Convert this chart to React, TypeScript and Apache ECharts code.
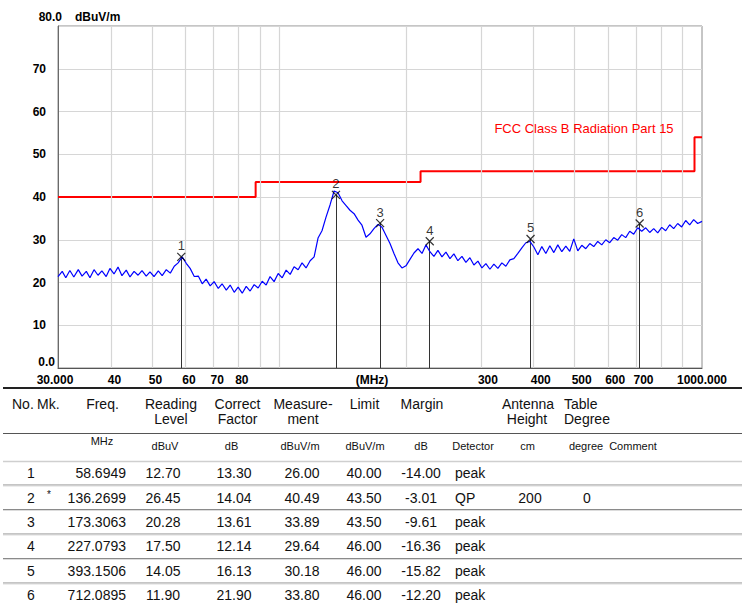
import React, { useEffect, useRef } from 'react';
import * as echarts from 'echarts';

// ---- Measured trace (MHz / dBuV/m) ----
const traceFreq = [
  30.0, 30.7, 31.3, 32.0, 32.7, 33.5, 34.2, 35.0, 35.7, 36.5,
  37.3, 38.1, 39.0, 39.8, 40.7, 41.6, 42.5, 43.5, 44.4, 45.4,
  46.4, 47.4, 48.5, 49.5, 50.6, 51.8, 52.9, 54.1, 55.3, 56.5,
  57.7, 59.0, 60.3, 61.6, 63.0, 64.4, 65.8, 67.2, 68.7, 70.2,
  71.8, 73.3, 75.0, 76.6, 78.3, 80.0, 81.8, 83.6, 85.4, 87.3,
  89.2, 91.2, 93.2, 95.2, 97.3, 99.5, 101.7, 103.9, 106.2, 108.5,
  110.9, 113.3, 115.8, 118.4, 121.0, 123.6, 126.3, 129.1, 132.0, 134.9,
  137.8, 140.9, 144.0, 147.1, 150.4, 153.7, 157.0, 160.5, 164.0, 167.6,
  171.3, 175.1, 179.0, 182.9, 186.9, 191.0, 195.2, 199.5, 203.9, 208.4,
  213.0, 217.7, 222.4, 227.3, 232.3, 237.4, 242.7, 248.0, 253.5, 259.0,
  264.7, 270.6, 276.5, 282.6, 288.8, 295.2, 301.7, 308.3, 315.1, 322.0,
  329.1, 336.3, 343.7, 351.3, 359.0, 366.9, 375.0, 383.2, 391.7, 400.3,
  409.1, 418.1, 427.3, 436.7, 446.3, 456.1, 466.1, 476.4, 486.8, 497.5,
  508.5, 519.7, 531.1, 542.8, 554.7, 566.9, 579.4, 592.1, 605.1, 618.4,
  632.0, 645.9, 660.1, 674.7, 689.5, 704.7, 720.2, 736.0, 752.2, 768.8,
  785.7, 803.0, 820.6, 838.7, 857.1, 876.0, 895.3, 915.0, 935.1, 955.7,
  976.7, 1000.0,
];
const traceLevel = [
  21.4, 22.6, 21.1, 22.8, 21.3, 23.0, 21.5, 22.6, 21.1, 23.0,
  21.7, 22.7, 21.4, 23.3, 22.0, 23.6, 21.6, 22.9, 21.3, 22.6,
  21.7, 22.8, 21.5, 22.5, 21.4, 22.7, 21.6, 23.0, 22.2, 23.8,
  24.6, 26.0, 24.5, 23.3, 21.4, 21.5, 19.7, 20.8, 19.2, 20.2,
  18.6, 19.7, 18.2, 19.4, 17.7, 18.9, 17.5, 19.1, 18.0, 19.5,
  18.7, 20.3, 19.4, 21.4, 20.2, 22.1, 21.1, 22.9, 21.9, 23.7,
  23.0, 24.6, 23.4, 25.1, 26.0, 30.4, 32.1, 35.3, 38.2, 41.4,
  41.0, 39.1, 38.0, 36.9, 36.1, 34.6, 33.4, 30.6, 31.4, 32.6,
  33.6, 32.9, 31.0, 29.1, 26.8, 24.6, 23.4, 23.9, 25.4, 26.9,
  27.9, 26.8, 28.8, 27.2, 26.1, 27.5, 26.0, 27.1, 25.6, 26.7,
  25.1, 26.1, 24.7, 25.8, 24.1, 25.0, 23.4, 24.4, 23.1, 24.3,
  23.3, 24.6, 23.8, 25.3, 25.6, 26.8, 28.1, 29.3, 29.6, 28.3,
  26.5, 28.4, 26.8, 28.6, 27.0, 28.8, 27.2, 28.5, 27.3, 30.2,
  27.4, 28.7, 27.9, 29.1, 28.4, 29.6, 28.8, 30.0, 29.3, 30.5,
  29.9, 31.2, 30.5, 32.0, 31.3, 32.8, 32.0, 32.8, 31.7, 32.6,
  31.6, 32.9, 32.1, 33.5, 32.6, 33.8, 33.0, 34.5, 33.5, 34.7,
  33.8, 34.3,
];

// ---- Limit line (FCC Class B) ----
const limitFreq = [30, 88, 216, 960, 1000];
const limitLevel = [40, 43.5, 46, 54, 54];
const limitName = 'FCC Class B Radiation Part 15';

// ---- Markers / table ----
const markerNo = ['1', '2', '3', '4', '5', '6'];
const markerMk = ['', '*', '', '', '', ''];
const markerFreq = [58.6949, 136.2699, 173.3063, 227.0793, 393.1506, 712.0895];
const readingLevel = [12.7, 26.45, 20.28, 17.5, 14.05, 11.9];
const correctFactor = [13.3, 14.04, 13.61, 12.14, 16.13, 21.9];
const measurement = [26.0, 40.49, 33.89, 29.64, 30.18, 33.8];
const limitAtMarker = [40.0, 43.5, 43.5, 46.0, 46.0, 46.0];
const marginDb = [-14.0, -3.01, -9.61, -16.36, -15.82, -12.2];
const detector = ['peak', 'QP', 'peak', 'peak', 'peak', 'peak'];
const antennaHeight = ['', '200', '', '', '', ''];
const tableDegree = ['', '0', '', '', '', ''];

// ---- Axis ticks ----
const xGridValues = [40, 50, 60, 70, 80, 90, 100, 200, 300, 400, 500, 600, 700, 800, 900];
const xLabelValues = [30, 40, 50, 60, 70, 80, 300, 400, 500, 600, 700, 1000];
const xLabelTexts = ['30.000', '40', '50', '60', '70', '80', '300', '400', '500', '600', '700', '1000.000'];
const xUnitLabel = '(MHz)';
const yUnitLabel = 'dBuV/m';

const FONT = '"Liberation Sans", Arial, sans-serif';

export default function App() {
  const ref = useRef<HTMLDivElement>(null);

  useEffect(() => {
    if (!ref.current) return;
    const chart = echarts.init(ref.current, null, { renderer: 'svg' });

    const graphics: any[] = [];
    const txt = (text: string, x: number, y: number, size: number, align: string, opts: any = {}) => {
      graphics.push({
        type: 'text',
        x,
        y,
        z: 100,
        silent: true,
        style: {
          text,
          fill: opts.fill || '#111',
          font: `${opts.weight || 'normal'} ${size}px ${FONT}`,
          align,
          verticalAlign: 'middle',
        },
      });
    };
    const hline = (y: number, color: string, w: number) => {
      graphics.push({
        type: 'line',
        z: 100,
        silent: true,
        shape: { x1: 3, y1: y, x2: 742, y2: y },
        style: { stroke: color, lineWidth: w },
      });
    };

    // axis captions
    txt('80.0', 62, 17, 12, 'right', { weight: 'bold', fill: '#000' });
    txt(yUnitLabel, 75, 17, 12, 'left', { weight: 'bold', fill: '#000' });
    txt('0.0', 55, 362, 12, 'right', { weight: 'bold', fill: '#000' });
    txt(xUnitLabel, 372, 380, 12, 'center', { weight: 'bold', fill: '#000' });
    txt(limitName, 584, 128, 13, 'center', { fill: '#ff0000' });

    // table
    hline(388, '#222', 2);
    hline(433.5, '#555', 1);
    hline(461.5, '#cfcfcf', 1.5);
    const rowY = [473, 497.5, 521.5, 546, 570.5, 595];
    const sepY = [485, 509.5, 534, 558.5, 583];
    sepY.forEach((y) => {
      hline(y, '#8a8a8a', 1);
      hline(y + 1, '#dcdcdc', 1);
    });

    const H = 14;
    txt('No.', 12, 404, H, 'left');
    txt('Mk.', 37, 404, H, 'left');
    txt('Freq.', 102.5, 404, H, 'center');
    txt('Reading', 171, 404, H, 'center');
    txt('Level', 171, 419, H, 'center');
    txt('Correct', 237.5, 404, H, 'center');
    txt('Factor', 237.5, 419, H, 'center');
    txt('Measure-', 303, 404, H, 'center');
    txt('ment', 303, 419, H, 'center');
    txt('Limit', 364.5, 404, H, 'center');
    txt('Margin', 422, 404, H, 'center');
    txt('Antenna', 528, 404, H, 'center');
    txt('Height', 527, 419, H, 'center');
    txt('Table', 564, 404, H, 'left');
    txt('Degree', 564, 419, H, 'left');

    const U = 11;
    txt('MHz', 102, 441, U, 'center');
    txt('dBuV', 165, 446, U, 'center');
    txt('dB', 231.5, 446, U, 'center');
    txt('dBuV/m', 300, 446, U, 'center');
    txt('dBuV/m', 365, 446, U, 'center');
    txt('dB', 421, 446, U, 'center');
    txt('Detector', 473, 446, U, 'center');
    txt('cm', 527.5, 446, U, 'center');
    txt('degree', 586, 446, U, 'center');
    txt('Comment', 633, 446, U, 'center');

    markerNo.forEach((no, i) => {
      const y = rowY[i];
      txt(no, 31, y, H, 'center');
      if (markerMk[i]) txt(markerMk[i], 49, y - 3, 10, 'center');
      txt(markerFreq[i].toFixed(4), 126, y, H, 'right');
      txt(readingLevel[i].toFixed(2), 163, y, H, 'center');
      txt(correctFactor[i].toFixed(2), 234, y, H, 'center');
      txt(measurement[i].toFixed(2), 302, y, H, 'center');
      txt(limitAtMarker[i].toFixed(2), 364, y, H, 'center');
      txt(marginDb[i].toFixed(2), 421, y, H, 'center');
      txt(detector[i], 455, y, H, 'left');
      if (antennaHeight[i]) txt(antennaHeight[i], 530, y, H, 'center');
      if (tableDegree[i]) txt(tableDegree[i], 587, y, H, 'center');
    });

    const option: any = {
      animation: false,
      backgroundColor: '#ffffff',
      grid: {
        left: 58,
        right: 43,
        top: 26,
        bottom: 237,
        show: true,
        borderColor: '#8c8c8c',
        borderWidth: 1,
        backgroundColor: 'transparent',
      },
      xAxis: {
        type: 'log',
        logBase: 10,
        min: 30,
        max: 1000,
        axisLine: { show: true, lineStyle: { color: '#555', width: 1 } },
        axisTick: { show: false },
        axisLabel: { show: false },
        splitLine: { show: false },
        minorSplitLine: { show: false },
      },
      yAxis: {
        type: 'value',
        min: 0,
        max: 80,
        interval: 10,
        axisLine: { show: true, lineStyle: { color: '#6a6a6a', width: 1 } },
        axisTick: { show: false },
        axisLabel: {
          margin: 12,
          color: '#000',
          fontWeight: 'bold',
          fontSize: 12,
          fontFamily: FONT,
          formatter: (v: number) => (v === 0 || v === 80 ? '' : String(v)),
        },
        splitLine: { show: true, lineStyle: { color: '#d6d6d6', width: 1.2 } },
      },
      graphic: { elements: graphics },
      series: [
        {
          name: 'grid',
          type: 'line',
          data: [],
          z: 1,
          silent: true,
          markLine: {
            silent: true,
            symbol: 'none',
            animation: false,
            label: { show: false },
            lineStyle: { color: '#d6d6d6', width: 1.2, type: 'solid' },
            data: xGridValues.map((v) => ({ xAxis: v })),
          },
        },
        {
          name: 'xlabels',
          type: 'line',
          data: [],
          z: 1,
          silent: true,
          markLine: {
            silent: true,
            symbol: 'none',
            animation: false,
            lineStyle: { color: 'rgba(0,0,0,0)', width: 0, type: 'solid' },
            data: xLabelValues.map((v, i) => ({
              xAxis: v,
              label: {
                show: true,
                position: 'start',
                distance: 6,
                formatter: xLabelTexts[i],
                color: '#000',
                fontWeight: 'bold',
                fontSize: 12,
                fontFamily: FONT,
                align: i === 0 || i === xLabelValues.length - 1 ? 'center' : 'left',
                offset: [i === 0 ? -3 : i === xLabelValues.length - 1 ? 0 : -3, 0],
              },
            })),
          },
        },
        {
          name: 'limit',
          type: 'line',
          step: 'end',
          z: 4,
          symbol: 'none',
          silent: true,
          lineStyle: { color: '#ff0000', width: 2 },
          data: limitFreq.map((f, i) => [f, limitLevel[i]]),
        },
        {
          name: 'trace',
          type: 'line',
          z: 5,
          symbol: 'none',
          silent: true,
          lineStyle: { color: '#0000ff', width: 1.2 },
          data: traceFreq.map((f, i) => [f, traceLevel[i]]),
        },
        {
          name: 'markers',
          type: 'scatter',
          z: 6,
          silent: true,
          symbol: 'path://M0,0L10,10M10,0L0,10',
          symbolSize: 8,
          itemStyle: { color: 'rgba(0,0,0,0)', borderColor: '#000', borderWidth: 1.2 },
          label: {
            show: true,
            position: 'top',
            distance: 0,
            color: '#000',
            fontSize: 13,
            fontFamily: FONT,
            formatter: (p: any) => markerNo[p.dataIndex],
          },
          data: markerFreq.map((f, i) => [f, measurement[i]]),
          markLine: {
            silent: true,
            symbol: 'none',
            animation: false,
            label: { show: false },
            lineStyle: { color: '#333', width: 1, type: 'solid' },
            data: markerFreq.map((f, i) => [
              { coord: [f, measurement[i]] },
              { coord: [f, 0] },
            ]),
          },
        },
      ],
    };

    chart.setOption(option);
    return () => chart.dispose();
  }, []);

  return (
    <div
      ref={ref}
      style={{ position: 'absolute', left: 0, top: 0, width: 745, height: 605, background: '#fff' }}
    />
  );
}
